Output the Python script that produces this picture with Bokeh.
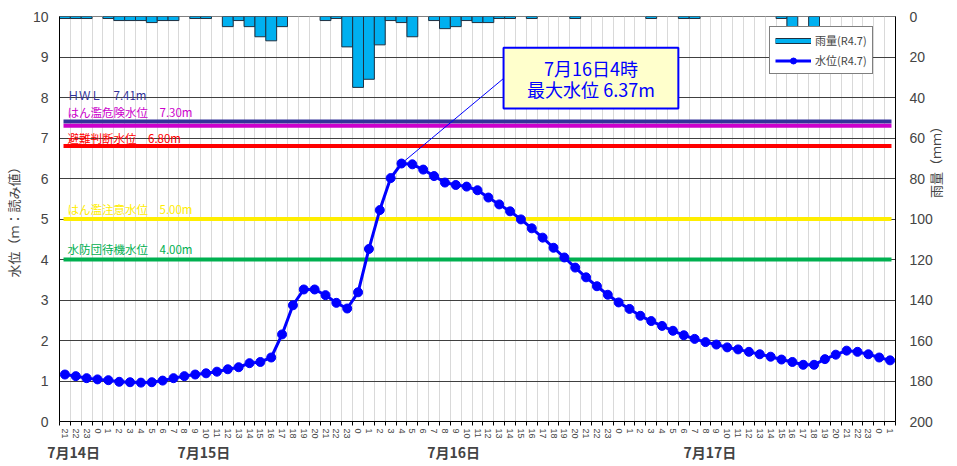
import math
from bokeh.plotting import figure
from bokeh.models import (Range1d, LinearAxis, FixedTicker, Legend, LegendItem,
                          BoxAnnotation, Label, ColumnDataSource)
from bokeh.core.properties import value
from bokeh.embed import file_html
from bokeh.resources import INLINE

# ---------------- data ----------------
hour_labels = ["21", "22", "23",
               "0", "1", "2", "3", "4", "5", "6", "7", "8", "9", "10", "11",
               "12", "13", "14", "15", "16", "17", "18", "19", "20", "21", "22", "23",
               "0", "1", "2", "3", "4", "5", "6", "7", "8", "9", "10", "11",
               "12", "13", "14", "15", "16", "17", "18", "19", "20", "21", "22", "23",
               "0", "1", "2", "3", "4", "5", "6", "7", "8", "9", "10", "11",
               "12", "13", "14", "15", "16", "17", "18", "19", "20", "21", "22", "23",
               "0", "1"]
day_labels = ["7月14日", "7月15日", "7月16日", "7月17日"]

water_level = [1.16, 1.12, 1.07,
               1.04, 1.02, 0.98, 0.97, 0.96, 0.97, 1.01, 1.07, 1.12, 1.16, 1.19, 1.23,
               1.29, 1.34, 1.44, 1.47, 1.58, 2.15, 2.87, 3.26, 3.26, 3.12, 2.93, 2.79,
               3.19, 4.26, 5.22, 6.01, 6.37, 6.35, 6.22, 6.06, 5.90, 5.84, 5.80, 5.71,
               5.53, 5.36, 5.19, 4.99, 4.77, 4.54, 4.29, 4.05, 3.80, 3.56, 3.34, 3.13,
               2.94, 2.78, 2.61, 2.48, 2.36, 2.24, 2.13, 2.04, 1.96, 1.90, 1.83, 1.78,
               1.72, 1.66, 1.60, 1.53, 1.47, 1.40, 1.40, 1.54, 1.65, 1.75, 1.72, 1.66,
               1.58, 1.51]

rainfall = [1, 1, 1,
            0, 1, 2, 2, 2, 3, 2, 2, 0, 1, 1, 0,
            5, 2, 5, 10, 12, 5, 0, 0, 0, 2, 1, 15,
            35, 31, 14, 2, 3, 10, 0, 2, 6, 5, 2, 3,
            3, 1, 1, 0, 1, 0, 0, 0, 1, 0, 0, 0,
            0, 0, 0, 1, 0, 0, 1, 1, 0, 0, 0, 0,
            0, 0, 0, 1, 6, 0, 7, 0, 0, 0, 0, 0,
            0, 0]

threshold_names = ["ＨＷＬ", "はん濫危険水位", "避難判断水位", "はん濫注意水位", "水防団待機水位"]
threshold_levels = [7.41, 7.30, 6.80, 5.00, 4.00]

left_ticks = [0, 1, 2, 3, 4, 5, 6, 7, 8, 9, 10]
right_ticks = [0, 20, 40, 60, 80, 100, 120, 140, 160, 180, 200]
left_title = "水位（ｍ：読み値）"
right_title = "雨量（ｍｍ）"

# ---------------- styles ----------------
threshold_colors = ["#333399", "#CC00CC", "#FF0000", "#FFEE00", "#00B050"]
label_offsets = [-26, -14, -8, -10, -11]
JPF = "Noto Sans CJK JP"
JP = value(JPF)
NUM = "Liberation Sans"

n = len(hour_labels)
xs = list(range(n))

p = figure(width=957, height=466, output_backend="svg", toolbar_location=None,
           x_range=Range1d(-0.5, n - 0.5), y_range=Range1d(0, 10),
           min_border_left=59, min_border_right=60, min_border_top=16,
           min_border_bottom=45, x_axis_location=None, y_axis_location=None)
p.extra_y_ranges = {"rain": Range1d(start=200, end=0)}
p.background_fill_color = "white"
p.border_fill_color = "white"
p.outline_line_color = "#808080"

# grids
p.xgrid.ticker = FixedTicker(ticks=[i + 0.5 for i in range(n - 1)])
p.xgrid.grid_line_color = "#D9D9D9"
p.xgrid.grid_line_width = 1
p.ygrid.ticker = FixedTicker(ticks=left_ticks[1:-1])
p.ygrid.grid_line_color = "#404040"
p.ygrid.grid_line_width = 1

# left axis
yl = LinearAxis(ticker=FixedTicker(ticks=left_ticks))
yl.axis_label = left_title
yl.axis_label_text_font = JPF
yl.axis_label_text_font_size = "13px"
yl.axis_label_text_font_style = "normal"
yl.axis_label_standoff = 7
yl.major_label_text_font = NUM
yl.major_label_text_font_size = "14px"
yl.major_label_standoff = 11
yl.major_tick_out = 0
yl.major_tick_in = 0
yl.minor_tick_line_color = None
yl.axis_line_color = "black"
p.add_layout(yl, "left")

# right axis
yr = LinearAxis(y_range_name="rain", ticker=FixedTicker(ticks=right_ticks))
yr.major_label_text_font = NUM
yr.major_label_text_font_size = "14px"
yr.major_label_standoff = 14
yr.major_tick_out = 0
yr.major_tick_in = 0
yr.minor_tick_out = 0
yr.minor_tick_line_color = None
yr.axis_line_color = "black"
p.add_layout(yr, "right")

# right title (as a rotated tick label so it reads bottom to top)
rt_pos = 89.6
yt = LinearAxis(y_range_name="rain", ticker=FixedTicker(ticks=[rt_pos]))
yt.major_label_overrides = {rt_pos: right_title}
yt.major_label_orientation = math.pi / 2
yt.major_label_text_font = JPF
yt.major_label_text_font_size = "13px"
yt.major_label_standoff = 0
yt.major_tick_out = 0
yt.major_tick_in = 0
yt.minor_tick_out = 0
yt.minor_tick_in = 0
yt.axis_line_color = None
yt.major_tick_line_color = None
yt.minor_tick_line_color = None
p.add_layout(yt, "right")

# hour axis
xh = LinearAxis(ticker=FixedTicker(ticks=xs, minor_ticks=[i - 0.5 for i in range(n + 1)]))
xh.major_label_overrides = {i: h for i, h in enumerate(hour_labels)}
xh.major_label_orientation = "vertical"
xh.major_label_text_font = NUM
xh.major_label_text_font_size = "9px"
xh.major_label_standoff = 3
xh.major_tick_out = 0
xh.major_tick_in = 0
xh.minor_tick_out = 4
xh.minor_tick_in = 0
xh.minor_tick_line_color = "black"
xh.axis_line_color = "black"
p.add_layout(xh, "below")

# day axis
day_pos = [0.8, 12.8, 35.8, 59.4]
xd = LinearAxis(ticker=FixedTicker(ticks=day_pos))
xd.major_label_overrides = {pos: d for pos, d in zip(day_pos, day_labels)}
xd.major_label_text_font = JPF
xd.major_label_text_font_size = "14px"
xd.major_label_text_font_style = "bold"
xd.major_label_standoff = 0
xd.major_tick_out = 0
xd.major_tick_in = 0
xd.minor_tick_out = 0
xd.minor_tick_in = 0
xd.axis_line_color = None
xd.major_tick_line_color = None
xd.minor_tick_line_color = None
p.add_layout(xd, "below")

# rainfall bars
rx = [x for x, r in zip(xs, rainfall) if r > 0]
rv = [r for r in rainfall if r > 0]
p.vbar(x=rx, width=1, top=0, bottom=rv, y_range_name="rain",
       fill_color="#00B0F0", line_color="#1F3040", line_width=1)

# thresholds
p.segment(x0=-0.13, x1=n - 0.87, y0=threshold_levels, y1=threshold_levels,
          line_color=threshold_colors, line_width=4)
tsrc = ColumnDataSource(dict(
    x=[-0.5] * len(threshold_levels), y=threshold_levels,
    t=[f"{nm}　{lv:.2f}m" for nm, lv in zip(threshold_names, threshold_levels)],
    c=threshold_colors, yo=label_offsets))
p.text(x="x", y="y", text="t", text_color="c", y_offset="yo", x_offset=8,
       source=tsrc, text_font=JP, text_font_size="11.5px",
       text_baseline="middle", text_align="left")

# water level
wl_line = p.line(xs, water_level, line_color="#0000FF", line_width=3)
wl_pts = p.scatter(xs, water_level, size=9, fill_color="#0000FF", line_color="#0000FF")

# peak annotation
imax = max(range(n), key=lambda i: water_level[i])
day_idx = hour_labels[:imax + 1].count("0")
box_l, box_r, box_b, box_t = 40.4, 56.5, 7.73, 9.23
p.segment(x0=[imax], y0=[water_level[imax]], x1=[box_l], y1=[8.47],
          line_color="#0000FF", line_width=1)
p.add_layout(BoxAnnotation(left=box_l, right=box_r, bottom=box_b, top=box_t,
                           fill_color="#FFFFCC", fill_alpha=1.0,
                           line_color="#0000FF", line_width=2, line_alpha=1.0))
cx = (box_l + box_r) / 2
p.add_layout(Label(x=cx, y=8.73, text=f"{day_labels[day_idx]}{hour_labels[imax]}時",
                   text_align="center", text_baseline="middle",
                   text_font=JPF, text_font_size="18px", text_color="#0000FF"))
p.add_layout(Label(x=cx, y=8.22, text=f"最大水位 {water_level[imax]:.2f}m",
                   text_align="center", text_baseline="middle",
                   text_font=JPF, text_font_size="18px", text_color="#0000FF"))

# legend proxies (hidden renderers, used only for legend swatches)
rain_a = p.line(rx, rv, y_range_name="rain", line_color="#1F3040", line_width=6, visible=False)
rain_b = p.line(rx, rv, y_range_name="rain", line_color="#00B0F0", line_width=4, visible=False)
legend = Legend(items=[LegendItem(label="雨量(R4.7)", renderers=[rain_a, rain_b]),
                       LegendItem(label="水位(R4.7)", renderers=[wl_line, wl_pts])],
                location=(710, 347), margin=0, padding=5, spacing=4,
                glyph_width=36, glyph_height=15, label_height=15, label_standoff=4,
                label_text_font=JPF, label_text_font_size="11px",
                border_line_color="black", border_line_width=1,
                background_fill_color="white", background_fill_alpha=1.0)
p.add_layout(legend)

open("out.html", "w").write(file_html(p, INLINE))
